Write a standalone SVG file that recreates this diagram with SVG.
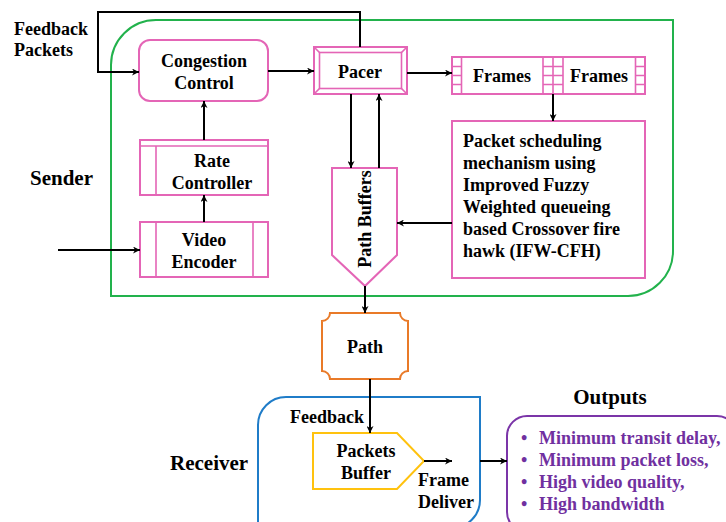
<svg xmlns="http://www.w3.org/2000/svg" width="726" height="522" viewBox="0 0 726 522" font-family="'Liberation Serif', Tinos, 'Times New Roman', 'DejaVu Serif', serif" font-weight="bold">
  <defs>
    <marker id="arrow" viewBox="0 0 10 10" refX="10" refY="5" markerWidth="7" markerHeight="7" markerUnits="userSpaceOnUse" orient="auto">
      <path d="M0,0 L10,5 L0,10 L3,5 z" fill="#000"/>
    </marker>
    <style>
      text { font-family: 'Liberation Serif', Tinos, 'Times New Roman', 'DejaVu Serif', serif; font-weight: 700; fill: #000; }
      .t18 { font-size: 18px; }
      .t21 { font-size: 21px; }
      .mid { text-anchor: middle; }
      .pink { fill: #fff; stroke: #E465B6; stroke-width: 2; }
      .pinkline { fill: none; stroke: #E465B6; stroke-width: 1.6; }
      .conn { fill: none; stroke: #000; stroke-width: 2; }
      .out { fill: #7030A0; font-size: 18px; }
    </style>
  </defs>

  <rect width="726" height="522" fill="#fff"/>

  <!-- Sender / receiver / output containers -->
  <g id="sender">
    <path d="M156,20 L673,20 L673,251 A45,45 0 0 1 628,296 L111,296 L111,65 A45,45 0 0 1 156,20 Z" fill="none" stroke="#22B24C" stroke-width="2"/>
    <text class="t21" x="30" y="185">Sender</text>
  </g>
  <g id="receiver">
    <path d="M286,397 L480,397 L480,500 A28,28 0 0 1 452,528 L258,528 L258,425 A28,28 0 0 1 286,397 Z" fill="none" stroke="#1F7CC8" stroke-width="2"/>
    <text class="t21" x="170" y="470">Receiver</text>
  </g>
  <g id="outputs">
    <rect x="507" y="416" width="230" height="116" rx="20" fill="none" stroke="#7B35A8" stroke-width="2"/>
    <text class="t21 mid" x="610" y="404">Outputs</text>
    <text class="out" x="521" y="444">•</text>
    <text class="out" x="539" y="444">Minimum transit delay,</text>
    <text class="out" x="521" y="466">•</text>
    <text class="out" x="539" y="466">Minimum packet loss,</text>
    <text class="out" x="521" y="488">•</text>
    <text class="out" x="539" y="488">High video quality,</text>
    <text class="out" x="521" y="510">•</text>
    <text class="out" x="539" y="510">High bandwidth</text>
  </g>

  <text class="t18" x="14" y="35">Feedback</text>
  <text class="t18" x="14" y="56">Packets</text>

  <!-- Sender nodes -->
  <g id="congestion-control">
    <rect class="pink" x="139" y="40" width="129" height="61" rx="11"/>
    <text class="t18 mid" x="204" y="67">Congestion</text>
    <text class="t18 mid" x="204" y="89">Control</text>
  </g>

  <g id="pacer">
    <rect class="pink" x="314" y="47" width="93" height="47"/>
    <rect class="pinkline" x="319.5" y="52.5" width="82" height="36"/>
    <path class="pinkline" d="M314,47 L319.5,52.5 M407,47 L401.5,52.5 M314,94 L319.5,88.5 M407,94 L401.5,88.5"/>
    <text class="t18 mid" x="360" y="78">Pacer</text>
  </g>

  <g id="frames">
    <rect class="pink" x="452" y="57" width="193" height="37"/>
    <path class="pinkline" d="M461.5,57 V94 M543,57 V94 M553,57 V94 M563,57 V94 M635.5,57 V94
      M452,66.5 H461.5 M452,75.5 H461.5 M452,84.5 H461.5
      M543,66.5 H563 M543,75.5 H563 M543,84.5 H563
      M635.5,66.5 H645 M635.5,75.5 H645 M635.5,84.5 H645"/>
    <text class="t18 mid" x="502" y="82">Frames</text>
    <text class="t18 mid" x="599" y="82">Frames</text>
  </g>

  <g id="packet-scheduling">
    <rect class="pink" x="452" y="121" width="193" height="157"/>
    <text class="t18" x="463" y="147">Packet scheduling</text>
    <text class="t18" x="463" y="169">mechanism using</text>
    <text class="t18" x="463" y="191">Improved Fuzzy</text>
    <text class="t18" x="463" y="213">Weighted queueing</text>
    <text class="t18" x="463" y="235">based Crossover fire</text>
    <text class="t18" x="463" y="257">hawk (IFW-CFH)</text>
  </g>

  <g id="path-buffers">
    <path class="pink" d="M332,168 L397,168 L397,255 L365,286 L332,255 Z"/>
    <text class="t18 mid" transform="translate(371,219) rotate(-90)">Path Buffers</text>
  </g>

  <g id="rate-controller">
    <rect class="pink" x="140" y="140" width="128" height="55"/>
    <path class="pinkline" d="M140,146 H268 M156,146 V195"/>
    <text class="t18 mid" x="212" y="167">Rate</text>
    <text class="t18 mid" x="212" y="189">Controller</text>
  </g>

  <g id="video-encoder">
    <rect class="pink" x="140" y="222" width="128" height="55"/>
    <path class="pinkline" d="M156,222 V277 M253,222 V277"/>
    <text class="t18 mid" x="204" y="246">Video</text>
    <text class="t18 mid" x="204" y="268">Encoder</text>
  </g>

  <!-- Network path and receiver nodes -->
  <g id="path">
    <path d="M330,313 L400,313 A8,8 0 0 0 408,321 L408,371 A8,8 0 0 0 400,379 L330,379 A8,8 0 0 0 322,371 L322,321 A8,8 0 0 0 330,313 Z" fill="#fff" stroke="#E97A28" stroke-width="2"/>
    <text class="t18 mid" x="365" y="353">Path</text>
  </g>

  <g id="packets-buffer">
    <path d="M313,433 L397,433 L424,461 L397,489 L313,489 Z" fill="#fff" stroke="#FFC20E" stroke-width="2"/>
    <text class="t18 mid" x="366" y="457">Packets</text>
    <text class="t18 mid" x="366" y="479">Buffer</text>
  </g>

  <text class="t18" x="290" y="423">Feedback</text>
  <text class="t18" x="418" y="486">Frame</text>
  <text class="t18" x="418" y="508">Deliver</text>

  <!-- Connectors -->
  <g id="connectors">
    <path class="conn" d="M360,47 V12 H98 V72 H139" marker-end="url(#arrow)"/>
    <path class="conn" d="M268,71 H314" marker-end="url(#arrow)"/>
    <path class="conn" d="M407,73 H452" marker-end="url(#arrow)"/>
    <path class="conn" d="M553,94 V121" marker-end="url(#arrow)"/>
    <path class="conn" d="M452,223 H397" marker-end="url(#arrow)"/>
    <path class="conn" d="M351,94 V168" marker-end="url(#arrow)"/>
    <path class="conn" d="M379,168 V94" marker-end="url(#arrow)"/>
    <path class="conn" d="M204,140 V101" marker-end="url(#arrow)"/>
    <path class="conn" d="M204,222 V195" marker-end="url(#arrow)"/>
    <path class="conn" d="M58,250 H140" marker-end="url(#arrow)"/>
    <path class="conn" d="M365,286 V313" marker-end="url(#arrow)"/>
    <path class="conn" d="M370,379 V433" marker-end="url(#arrow)"/>
    <path class="conn" d="M424,461 H452" marker-end="url(#arrow)"/>
    <path class="conn" d="M480,461 H507" marker-end="url(#arrow)"/>
  </g>
</svg>
